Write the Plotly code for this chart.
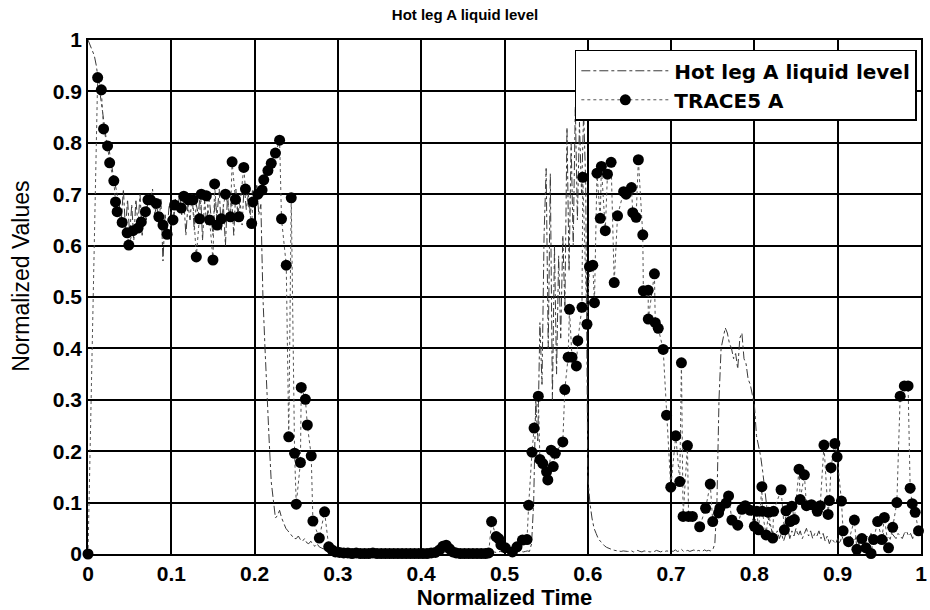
import plotly.graph_objects as go

# Experimental "Hot leg A liquid level" (uniform sampling, dt = 0.0025)
exp_dt = 0.0025
exp_level = [
    1.00, 0.99, 0.98, 0.97, 0.95, 0.92, 0.89, 0.85, 0.82, 0.80, 0.79, 0.76, 0.74, 0.72, 0.70, 0.68, 0.65, 0.71, 0.63, 0.69,
    0.62, 0.68, 0.61, 0.69, 0.64, 0.70, 0.62, 0.67, 0.65, 0.70, 0.69, 0.71, 0.66, 0.68, 0.64, 0.69, 0.57, 0.66, 0.63, 0.68,
    0.66, 0.64, 0.69, 0.67, 0.70, 0.66, 0.69, 0.62, 0.68, 0.65, 0.70, 0.63, 0.68, 0.66, 0.71, 0.61, 0.69, 0.64, 0.70, 0.66,
    0.62, 0.69, 0.66, 0.71, 0.63, 0.68, 0.60, 0.70, 0.65, 0.69, 0.62, 0.71, 0.66, 0.69, 0.64, 0.72, 0.67, 0.70, 0.66, 0.71,
    0.68, 0.72, 0.66, 0.68, 0.50, 0.40, 0.30, 0.22, 0.14, 0.10, 0.07, 0.075, 0.085, 0.07, 0.06, 0.05, 0.045, 0.04, 0.035, 0.03,
    0.03, 0.035, 0.028, 0.025, 0.03, 0.022, 0.02, 0.025, 0.018, 0.015, 0.02, 0.014, 0.012, 0.01, 0.012, 0.008, 0.007, 0.006, 0.006, 0.005,
    0.005, 0.004, 0.005, 0.003, 0.004, 0.004, 0.003, 0.005, 0.004, 0.003, 0.004, 0.003, 0.004, 0.003, 0.005, 0.003, 0.004, 0.003, 0.004, 0.003,
    0.004, 0.003, 0.004, 0.003, 0.005, 0.003, 0.004, 0.003, 0.004, 0.003, 0.005, 0.004, 0.003, 0.004, 0.003, 0.004, 0.003, 0.005, 0.003, 0.004,
    0.003, 0.004, 0.003, 0.004, 0.003, 0.005, 0.004, 0.003, 0.004, 0.003, 0.004, 0.003, 0.005, 0.003, 0.004, 0.003, 0.004, 0.003, 0.004, 0.003,
    0.004, 0.003, 0.004, 0.003, 0.005, 0.003, 0.004, 0.003, 0.004, 0.005, 0.003, 0.004, 0.003, 0.004, 0.003, 0.004, 0.003, 0.004, 0.005, 0.004,
    0.004, 0.005, 0.004, 0.006, 0.005, 0.004, 0.005, 0.006, 0.005, 0.004, 0.005, 0.006, 0.005, 0.02, 0.10, 0.30, 0.22, 0.45, 0.33, 0.62,
    0.75, 0.40, 0.74, 0.30, 0.60, 0.35, 0.58, 0.42, 0.62, 0.48, 0.83, 0.55, 0.80, 0.60, 0.87, 0.65, 0.84, 0.70, 0.86, 0.72,
    0.15, 0.10, 0.07, 0.05, 0.04, 0.03, 0.025, 0.02, 0.016, 0.013, 0.011, 0.009, 0.008, 0.007, 0.006, 0.006, 0.005, 0.006, 0.005, 0.005,
    0.005, 0.006, 0.004, 0.005, 0.007, 0.005, 0.004, 0.006, 0.005, 0.005, 0.004, 0.006, 0.005, 0.007, 0.005, 0.004, 0.006, 0.005, 0.006, 0.005,
    0.006, 0.005, 0.008, 0.005, 0.006, 0.009, 0.005, 0.006, 0.007, 0.005, 0.006, 0.008, 0.005, 0.007, 0.006, 0.005, 0.008, 0.006, 0.007, 0.006,
    0.008, 0.02, 0.10, 0.30, 0.40, 0.42, 0.44, 0.43, 0.41, 0.40, 0.38, 0.39, 0.36, 0.42, 0.43, 0.38, 0.37, 0.34, 0.33, 0.31,
    0.29, 0.23, 0.21, 0.19, 0.16, 0.12, 0.09, 0.06, 0.05, 0.04, 0.035, 0.045, 0.03, 0.04, 0.025, 0.04, 0.05, 0.03, 0.045, 0.035,
    0.05, 0.035, 0.045, 0.03, 0.04, 0.05, 0.035, 0.045, 0.03, 0.04, 0.035, 0.045, 0.03, 0.04, 0.025, 0.035, 0.02, 0.03, 0.025, 0.02,
    0.03, 0.02, 0.035, 0.025, 0.03, 0.02, 0.035, 0.03, 0.025, 0.035, 0.02, 0.03, 0.04, 0.025, 0.035, 0.03, 0.04, 0.03, 0.035, 0.025,
    0.035, 0.03, 0.04, 0.025, 0.035, 0.03, 0.04, 0.035, 0.03, 0.04, 0.035, 0.03, 0.04, 0.045, 0.035, 0.04, 0.03, 0.045, 0.04, 0.035, 0.04,
]

# TRACE5 A simulation
trace_t = [
    0.000, 0.0116, 0.016, 0.0187, 0.0235, 0.026, 0.031, 0.033, 0.035, 0.041, 0.047, 0.049, 0.054, 0.060, 0.064,
    0.069, 0.072, 0.075, 0.082, 0.085, 0.090, 0.095, 0.102, 0.104, 0.112, 0.115, 0.1205, 0.126, 0.130, 0.134,
    0.136, 0.142, 0.146, 0.150, 0.152, 0.155, 0.160, 0.165, 0.171, 0.173, 0.177, 0.181, 0.187, 0.189, 0.1965,
    0.198, 0.204, 0.209, 0.211, 0.216, 0.220, 0.225, 0.230, 0.2323, 0.238, 0.241, 0.244, 0.248, 0.250, 0.255,
    0.256, 0.261, 0.2633, 0.268, 0.270, 0.2777, 0.284, 0.289, 0.293,
    0.297, 0.302, 0.307, 0.312, 0.317, 0.322, 0.327, 0.332, 0.337, 0.342, 0.347, 0.352, 0.357, 0.362, 0.367,
    0.372, 0.377, 0.382, 0.387, 0.392, 0.397, 0.402, 0.407, 0.412, 0.417, 0.422, 0.426, 0.430, 0.434, 0.438,
    0.442, 0.447, 0.452, 0.457, 0.462, 0.467, 0.472, 0.477, 0.481,
    0.4845, 0.490, 0.493, 0.4957, 0.501, 0.5095, 0.515, 0.5215, 0.527, 0.529, 0.533, 0.5355, 0.5406, 0.5425, 0.546,
    0.5505, 0.552, 0.556, 0.5585, 0.561, 0.570, 0.5724, 0.5764, 0.578, 0.581, 0.5863, 0.588, 0.593, 0.594, 0.599,
    0.602, 0.606, 0.608, 0.611, 0.615, 0.6163, 0.621, 0.6236, 0.628, 0.6317, 0.6357, 0.643, 0.646, 0.6524, 0.654,
    0.658, 0.6607, 0.666, 0.6667, 0.6725, 0.6726, 0.680, 0.681, 0.6846, 0.6905, 0.6945, 0.6996, 0.7056, 0.7104, 0.7124,
    0.7144, 0.7196, 0.721, 0.7256, 0.7343, 0.7414, 0.747, 0.750, 0.757, 0.7585, 0.766, 0.769, 0.773, 0.780, 0.785,
    0.789, 0.795, 0.800, 0.803, 0.805, 0.809, 0.8095, 0.814, 0.817, 0.822, 0.823, 0.832, 0.836, 0.838, 0.843,
    0.845, 0.848, 0.8536, 0.855, 0.860, 0.8625, 0.8685, 0.8755, 0.879, 0.8835, 0.8885, 0.890, 0.892, 0.8966, 0.8993,
    0.9045, 0.9065, 0.913, 0.920, 0.923, 0.929, 0.934, 0.940, 0.943, 0.948, 0.953, 0.956, 0.961, 0.966, 0.971,
    0.975, 0.980, 0.9845, 0.987, 0.9895, 0.993, 0.997,
]
trace_v = [
    0.000, 0.927, 0.903, 0.827, 0.794, 0.761, 0.726, 0.685, 0.666, 0.645, 0.625, 0.601, 0.629, 0.634, 0.646,
    0.666, 0.689, 0.689, 0.682, 0.656, 0.640, 0.622, 0.650, 0.679, 0.673, 0.696, 0.689, 0.689, 0.578, 0.652,
    0.700, 0.697, 0.650, 0.572, 0.720, 0.640, 0.652, 0.700, 0.656, 0.763, 0.690, 0.656, 0.752, 0.710, 0.643,
    0.685, 0.700, 0.708, 0.728, 0.746, 0.760, 0.780, 0.805, 0.652, 0.562, 0.228, 0.693, 0.196, 0.097, 0.178,
    0.324, 0.301, 0.251, 0.191, 0.064, 0.031, 0.082, 0.014, 0.008,
    0.004, 0.003, 0.002, 0.002, 0.001, 0.002, 0.001, 0.001, 0.001, 0.002, 0.001, 0.001, 0.001, 0.001, 0.001,
    0.001, 0.001, 0.001, 0.001, 0.001, 0.001, 0.001, 0.001, 0.002, 0.003, 0.008, 0.015, 0.017, 0.010, 0.004,
    0.002, 0.001, 0.001, 0.001, 0.001, 0.001, 0.001, 0.001, 0.002,
    0.063, 0.034, 0.030, 0.018, 0.012, 0.004, 0.014, 0.027, 0.028, 0.095, 0.198, 0.245, 0.307, 0.184, 0.176,
    0.160, 0.144, 0.202, 0.170, 0.196, 0.218, 0.320, 0.383, 0.476, 0.383, 0.366, 0.415, 0.480, 0.733, 0.447,
    0.559, 0.562, 0.489, 0.741, 0.653, 0.754, 0.629, 0.739, 0.762, 0.528, 0.658, 0.705, 0.700, 0.713, 0.664,
    0.655, 0.767, 0.621, 0.512, 0.513, 0.457, 0.545, 0.450, 0.439, 0.398, 0.270, 0.130, 0.230, 0.141, 0.372,
    0.073, 0.211, 0.073, 0.073, 0.053, 0.089, 0.136, 0.063, 0.080, 0.089, 0.099, 0.113, 0.066, 0.056, 0.087,
    0.094, 0.085, 0.054, 0.083, 0.047, 0.131, 0.083, 0.037, 0.081, 0.031, 0.083, 0.125, 0.047, 0.084, 0.063,
    0.093, 0.067, 0.165, 0.106, 0.154, 0.094, 0.096, 0.083, 0.094, 0.212, 0.077, 0.104, 0.168, 0.215, 0.189,
    0.103, 0.045, 0.024, 0.066, 0.009, 0.030, 0.012, 0.001, 0.028, 0.063, 0.028, 0.071, 0.012, 0.052, 0.100,
    0.307, 0.327, 0.327, 0.128, 0.098, 0.081, 0.045,
]

tick_vals = [0, 0.1, 0.2, 0.3, 0.4, 0.5, 0.6, 0.7, 0.8, 0.9, 1]
tick_text = ["0", "0.1", "0.2", "0.3", "0.4", "0.5", "0.6", "0.7", "0.8", "0.9", "1"]

FONT = "Liberation Sans, Arial, sans-serif"
WIDE = "DejaVu Sans, Liberation Sans, sans-serif"

fig = go.Figure()
fig.add_trace(go.Scatter(
    x0=0, dx=exp_dt, y=exp_level, mode="lines", name="Hot leg A liquid level",
    line=dict(color="#3a3a3a", width=1, dash="dashdot"),
))
fig.add_trace(go.Scatter(
    x=trace_t, y=trace_v, mode="lines+markers", name="TRACE5 A",
    line=dict(color="#555555", width=1, dash="dot"),
    marker=dict(color="black", size=11, symbol="circle"),
    cliponaxis=False,
))

axis_common = dict(
    range=[0, 1], tickvals=tick_vals, ticktext=tick_text,
    showgrid=True, gridcolor="black", gridwidth=1.5,
    showline=True, linecolor="black", linewidth=1.5, mirror=True,
    ticks="inside", ticklen=4, tickcolor="black",
    zeroline=False, ticklabeloverflow="allow",
    tickfont=dict(family=FONT, size=21, color="black", weight="bold"),
)

fig.update_layout(
    width=930, height=610,
    margin=dict(l=88, r=3, t=40, b=56),
    paper_bgcolor="white", plot_bgcolor="white",
    title=dict(text="Hot leg A liquid level", x=0.5, xanchor="center", y=0.985, yanchor="top",
               font=dict(family=FONT, size=15, color="black", weight="bold")),
    xaxis=dict(**axis_common,
               title=dict(text="Normalized Time", standoff=2,
                          font=dict(family=FONT, size=22, color="black", weight="bold"))),
    yaxis=dict(**axis_common),
    legend=dict(x=0.995, y=0.981, xanchor="right", yanchor="top",
                bgcolor="white", bordercolor="black", borderwidth=1.5,
                font=dict(family=WIDE, size=20, color="black", weight="bold"),
                itemwidth=88, tracegroupgap=0),
    showlegend=True,
    annotations=[dict(
        text="Normalized Values", xref="paper", yref="paper",
        x=-0.08, y=0.54, xanchor="center", yanchor="middle", textangle=-90,
        showarrow=False, font=dict(family=FONT, size=23, color="black"),
    )],
)

fig.write_html("out.html")
